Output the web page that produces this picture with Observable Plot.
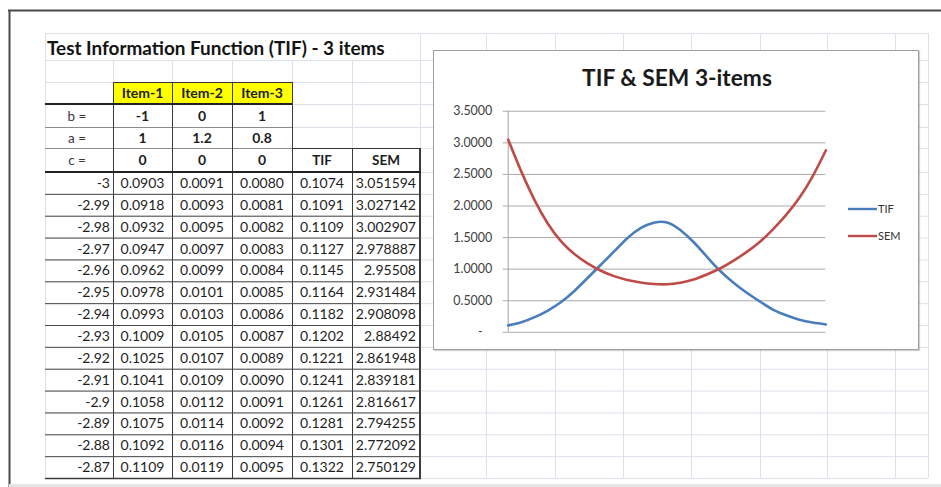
<!DOCTYPE html>
<html><head><meta charset="utf-8">
<script src="https://cdn.jsdelivr.net/npm/d3@7"></script>
<script src="https://cdn.jsdelivr.net/npm/@observablehq/plot@0.6"></script>
<style>
html,body{margin:0;padding:0;background:#fff;}
body{width:941px;height:487px;overflow:hidden;position:relative;font-family:Lato,"Open Sans",sans-serif;}
#sheet{position:absolute;left:0;top:0;}
#box{position:absolute;left:433px;top:50px;width:484px;height:298px;background:#fff;border:1px solid #9e9e9e;box-shadow:1px 1px 1px rgba(0,0,0,0.18);}
#box svg{position:absolute;left:-1px;top:-1px;}
</style></head><body>
<svg id="sheet" width="941" height="487"></svg>
<div id="box"></div>
<script>
// ---------- table data ----------
const sheetTitle = "Test Information Function (TIF) - 3 items";
const itemNames = ["Item-1", "Item-2", "Item-3"];
const paramLabels = ["b =", "a =", "c ="];
const bParams = ["-1", "0", "1"];
const aParams = ["1", "1.2", "0.8"];
const cParams = ["0", "0", "0"];
const sumHeaders = ["TIF", "SEM"];
const thetaLabels = ["-3","-2.99","-2.98","-2.97","-2.96","-2.95","-2.94","-2.93","-2.92","-2.91","-2.9","-2.89","-2.88","-2.87"];
const item1Col = ["0.0903","0.0918","0.0932","0.0947","0.0962","0.0978","0.0993","0.1009","0.1025","0.1041","0.1058","0.1075","0.1092","0.1109"];
const item2Col = ["0.0091","0.0093","0.0095","0.0097","0.0099","0.0101","0.0103","0.0105","0.0107","0.0109","0.0112","0.0114","0.0116","0.0119"];
const item3Col = ["0.0080","0.0081","0.0082","0.0083","0.0084","0.0085","0.0086","0.0087","0.0089","0.0090","0.0091","0.0092","0.0094","0.0095"];
const tifCol = ["0.1074","0.1091","0.1109","0.1127","0.1145","0.1164","0.1182","0.1202","0.1221","0.1241","0.1261","0.1281","0.1301","0.1322"];
const semCol = ["3.051594","3.027142","3.002907","2.978887","2.95508","2.931484","2.908098","2.88492","2.861948","2.839181","2.816617","2.794255","2.772092","2.750129"];

// ---------- chart data ----------
const chartTitle = "TIF & SEM 3-items";
const seriesNames = ["TIF", "SEM"];
const thetaGrid = [-3,-2.75,-2.5,-2.25,-2,-1.75,-1.5,-1.25,-1,-0.75,-0.5,-0.25,0,0.25,0.5,0.75,1,1.25,1.5,1.75,2,2.25,2.5,2.75,3];
const tifCurve = [0.11,0.16,0.24,0.345,0.48,0.655,0.86,1.07,1.28,1.49,1.65,1.735,1.74,1.62,1.43,1.20,0.975,0.79,0.63,0.49,0.36,0.27,0.20,0.155,0.125];
const semCurve = [3.05,2.54,2.09,1.72,1.44,1.24,1.09,0.975,0.89,0.83,0.79,0.765,0.76,0.785,0.835,0.915,1.01,1.13,1.27,1.43,1.63,1.86,2.13,2.47,2.88];
const yTicks = [0, 0.5, 1, 1.5, 2, 2.5, 3, 3.5];

// ---------- spreadsheet background ----------
const sheet = d3.select("#sheet");
const colX = [45, 113, 172, 232, 292, 352, 420];
const extraCols = [486, 555, 623, 691, 760, 827, 895, 928];
const rowH = 306 / 14;
const rowY = [33, 60, 82, 104, 127, 148, 172];
for (let i = 1; i <= 14; i++) rowY.push(172 + i * rowH);
const gridC = "#dde1ea";

function line(x1, y1, x2, y2, stroke, w) {
  sheet.append("line").attr("x1", x1).attr("y1", y1).attr("x2", x2).attr("y2", y2)
    .attr("stroke", stroke).attr("stroke-width", w || 1);
}
function text(str, x, y, anchor, opts = {}) {
  return sheet.append("text").attr("x", x).attr("y", y).attr("text-anchor", anchor)
    .attr("font-size", opts.size || 14).attr("font-weight", opts.bold ? "bold" : "normal")
    .attr("fill", opts.fill || "#1e1e1e").text(str);
}

// light grid
rowY.forEach(y => line(45, y + 0.5, 928, y + 0.5, gridC));
colX.concat(extraCols).forEach(x => {
  const top = (x > 45 && x < 420) ? 60 : 33;
  line(x + 0.5, top, x + 0.5, 478, gridC);
});

// outer frame
line(8, 10.5, 941, 10.5, "#4a4a4a", 2);
line(9.5, 10, 9.5, 487, "#4a4a4a", 2);
sheet.append("rect").attr("x", 9).attr("y", 484).attr("width", 932).attr("height", 3).attr("fill", "#e4e4e4");

// yellow item headers and borders
sheet.append("rect").attr("x", 113).attr("y", 82).attr("width", 179).attr("height", 22).attr("fill", "#ffff00");
line(113, 82.5, 292, 82.5, "#333", 1);
line(45, 127.5, 292, 127.5, "#8c8c8c", 1);
line(45, 148.5, 292, 148.5, "#8c8c8c", 1);
line(292, 148.5, 420, 148.5, "#333", 1);
[113, 172, 232, 292].forEach(x => line(x + 0.5, 82, x + 0.5, 478, "#3c3c3c", 1));
line(352.5, 148, 352.5, 478, "#3c3c3c", 1);
line(420, 148, 420, 479, "#3c3c3c", 2);
for (let i = 7; i < rowY.length; i++) line(45, rowY[i] + 0.5, 420, rowY[i] + 0.5, "#4a4a4a", 1);
line(45, 478.5, 421, 478.5, "#3c3c3c", 1.5);
line(45, 104, 292, 104, "#222", 2);
line(45, 172, 421, 172, "#222", 2);

// texts
const t = text(sheetTitle, 47, 55, "start", { bold: true, size: 17, fill: "#141414" });
const tw = t.node().getComputedTextLength();
t.attr("font-size", 17 * 338 / tw);
const cx = i => (colX[i] + colX[i + 1]) / 2;
const base = r => (rowY[r] + rowY[r + 1]) / 2 + 5;
itemNames.forEach((s, i) => text(s, cx(i + 1), base(2), "middle", { bold: true }));
[bParams, aParams, cParams].forEach((arr, r) => {
  text(paramLabels[r], 77, base(3 + r), "middle", { fill: "#3a3a3a", size: 13.5 });
  arr.forEach((s, i) => text(s, cx(i + 1), base(3 + r), "middle", { bold: true }));
});
sumHeaders.forEach((s, i) => text(s, cx(4 + i), base(5), "middle", { bold: true, size: 13.5 }));
thetaLabels.forEach((s, r) => {
  const b = base(6 + r);
  text(s, 110, b, "end");
  text(item1Col[r], cx(1), b, "middle");
  text(item2Col[r], cx(2), b, "middle");
  text(item3Col[r], cx(3), b, "middle");
  text(tifCol[r], cx(4), b, "middle");
  text(semCol[r], 416, b, "end");
});

// ---------- chart ----------
const rows = thetaGrid.map((th, i) => ({ theta: th, TIF: tifCurve[i], SEM: semCurve[i] }));
const colors = { TIF: "#4a7ebb", SEM: "#be4b48" };
const chart = Plot.plot({
  width: 486, height: 300,
  marginLeft: 75, marginRight: 92, marginTop: 61, marginBottom: 17,
  x: { domain: [-3, 3], axis: null },
  y: { domain: [0, 3.5], axis: null },
  style: { background: "transparent", fontFamily: "Lato, sans-serif", fontSize: "12.5px" },
  marks: [
    Plot.ruleY(yTicks, { stroke: "#a9a9a9", strokeWidth: 1 }),
    Plot.axisY(yTicks, {
      tickSize: 5, tickPadding: 11, stroke: "#a9a9a9", fill: "#404040",
      tickFormat: d => d === 0 ? "-\u00a0\u00a0\u00a0" : d.toFixed(4)
    }),
    Plot.ruleX([-3], { y1: 0, y2: 3.5, stroke: "#a0a0a0" }),
    Plot.line(rows, { x: "theta", y: "TIF", stroke: colors.TIF, strokeWidth: 2.6, curve: "natural" }),
    Plot.line(rows, { x: "theta", y: "SEM", stroke: colors.SEM, strokeWidth: 2.6, curve: "natural" })
  ]
});
document.getElementById("box").appendChild(chart);

// title + legend overlay
const ov = d3.select("#box").append("svg").attr("width", 486).attr("height", 300);
const ct = ov.append("text").attr("x", 244).attr("y", 36).attr("text-anchor", "middle")
  .attr("font-family", "Lato, sans-serif").attr("font-weight", "bold").attr("font-size", 22)
  .attr("fill", "#1a1a1a").text(chartTitle);
ct.attr("font-size", 22 * 190 / ct.node().getComputedTextLength());
seriesNames.forEach((s, i) => {
  const y = 159 + i * 27;
  ov.append("line").attr("x1", 415).attr("x2", 444).attr("y1", y).attr("y2", y)
    .attr("stroke", colors[s]).attr("stroke-width", 2.4);
  ov.append("text").attr("x", 445).attr("y", y + 4).attr("font-family", "Lato, sans-serif")
    .attr("font-size", 11).attr("fill", "#333").text(s);
});
</script>
</body></html>
